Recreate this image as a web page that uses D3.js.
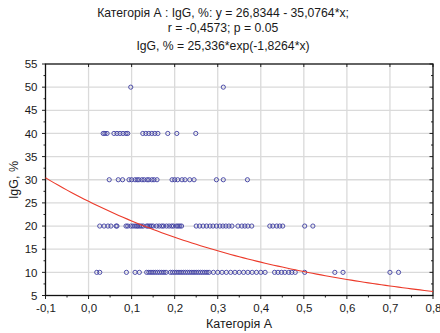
<!DOCTYPE html>
<html><head><meta charset="utf-8">
<script src="https://cdn.jsdelivr.net/npm/d3@7/dist/d3.min.js"></script>
<style>body{margin:0;background:#fff;} svg{display:block;font-family:"Liberation Sans",Arial,sans-serif;}</style>
</head><body><svg id="c" width="440" height="333"></svg>
<script>
const titleLines = ["Категорія А : IgG, %: y = 26,8344 - 35,0764*x;", "r = -0,4573; p = 0.05", "IgG, % = 25,336*exp(-1,8264*x)"];
const xLabel = "Категорія А";
const yLabel = "IgG, %";
const xTicks = [-0.1,0,0.1,0.2,0.3,0.4,0.5,0.6,0.7,0.8];
const yTicks = [5,10,15,20,25,30,35,40,45,50,55];
const fitA = 25.336, fitB = -1.8264;

const x50 = [0.098, 0.313];
const x40 = [0.034,0.038,0.043,0.059,0.066,0.073,0.080,0.087,0.091,0.126,0.133,0.140,0.147,0.154,0.161,0.184,0.205,0.249];
const x30 = [0.048,0.069,0.079,0.094,0.100,0.108,0.113,0.117,0.124,0.129,0.136,0.140,0.147,0.152,0.159,0.194,0.200,0.207,0.217,0.224,0.235,0.245,0.297,0.313,0.369];
const x20 = [0.026,0.036,0.045,0.052,0.064,0.066,0.087,0.091,0.098,0.103,0.108,0.112,0.115,0.119,0.123,0.127,0.135,0.138,0.142,0.146,0.150,0.158,0.164,0.170,0.174,0.181,0.187,0.193,0.197,0.204,0.208,0.212,0.216,0.250,0.258,0.266,0.274,0.282,0.289,0.297,0.305,0.312,0.319,0.326,0.333,0.347,0.356,0.363,0.370,0.379,0.421,0.428,0.437,0.444,0.451,0.502,0.521];
const x10 = [0.019,0.026,0.088,0.108,0.118,0.135,0.140,0.145,0.150,0.155,0.160,0.165,0.170,0.175,0.180,0.190,0.195,0.200,0.205,0.210,0.215,0.220,0.225,0.230,0.235,0.240,0.245,0.250,0.255,0.260,0.265,0.270,0.275,0.280,0.290,0.300,0.310,0.320,0.330,0.340,0.350,0.360,0.370,0.380,0.390,0.400,0.410,0.432,0.440,0.448,0.456,0.465,0.472,0.480,0.502,0.572,0.591,0.700,0.720];

const svg = d3.select("#c");
const L=45.5, R=433, T=64, B=295.5;
const xs = d3.scaleLinear().domain([-0.1,0.8]).range([L,R]);
const ys = d3.scaleLinear().domain([5,55]).range([B,T]);
const fmt = d => d3.format(".1f")(d).replace(".", ",").replace("−","-");

// grid
const g = svg.append("g");
g.selectAll(".vg").data(xTicks.slice(1,-1)).enter().append("line")
 .attr("x1",d=>xs(d)).attr("x2",d=>xs(d)).attr("y1",T).attr("y2",B)
 .attr("stroke","#dadada").attr("stroke-width",1.3);
g.selectAll(".hg").data(yTicks.slice(1,-1)).enter().append("line")
 .attr("y1",d=>ys(d)).attr("y2",d=>ys(d)).attr("x1",L).attr("x2",R)
 .attr("stroke","#dadada").attr("stroke-width",1.3);

// axes
const xAx = d3.axisBottom(xs).tickValues(xTicks).tickFormat(fmt).tickSize(0).tickPadding(6);
const yAx = d3.axisLeft(ys).tickValues(yTicks).tickSize(0).tickPadding(8);
const gx = svg.append("g").attr("transform",`translate(0,${B})`).call(xAx);
const gy = svg.append("g").attr("transform",`translate(${L},0)`).call(yAx);
[gx,gy].forEach(a=>{a.select(".domain").remove(); a.selectAll("text").attr("font-size",11.5).attr("fill","#1a1a1a").attr("font-family","Liberation Sans, Arial, sans-serif");});
gx.selectAll("text").attr("dy","0.95em");

// minor ticks
const minorX = d3.range(-0.1,0.8001,0.05);
const minorY = d3.range(5,55.001,2.5);
svg.append("g").selectAll("line").data(minorX).enter().append("line")
 .attr("x1",d=>xs(d)).attr("x2",d=>xs(d)).attr("y1",B).attr("y2",(d,i)=>B+(i%2?2:3.5)).attr("stroke","#222");
svg.append("g").selectAll("line").data(minorX).enter().append("line")
 .attr("x1",d=>xs(d)).attr("x2",d=>xs(d)).attr("y1",T).attr("y2",(d,i)=>T+(i%2?0:3)).attr("stroke","#222");
svg.append("g").selectAll("line").data(minorY).enter().append("line")
 .attr("y1",d=>ys(d)).attr("y2",d=>ys(d)).attr("x1",L).attr("x2",(d,i)=>L-(i%2?2:3.5)).attr("stroke","#222");
svg.append("g").selectAll("line").data(minorY).enter().append("line")
 .attr("y1",d=>ys(d)).attr("y2",d=>ys(d)).attr("x1",R).attr("x2",(d,i)=>R-(i%2?2:3.5)).attr("stroke","#222");

// frame
svg.append("rect").attr("x",L).attr("y",T).attr("width",R-L).attr("height",B-T)
 .attr("fill","none").attr("stroke","#111").attr("stroke-width",1.3);

// points
const pts = [].concat(
  x50.map(v=>[v,50]), x40.map(v=>[v,40]), x30.map(v=>[v,30]), x20.map(v=>[v,20]), x10.map(v=>[v,10]));
svg.append("g").selectAll("circle").data(pts).enter().append("circle")
 .attr("cx",d=>xs(d[0])).attr("cy",d=>ys(d[1])).attr("r",2.1)
 .attr("fill","none").attr("stroke","#3c3ca0").attr("stroke-width",0.9);

// fit curve
const cx = d3.range(-0.1,0.8001,0.01);
svg.append("path").datum(cx.map(v=>[v,fitA*Math.exp(fitB*v)]))
 .attr("d",d3.line().x(d=>xs(d[0])).y(d=>ys(d[1])))
 .attr("fill","none").attr("stroke","#ec3a2a").attr("stroke-width",1.1);

// titles
svg.append("g").selectAll("text").data(titleLines).enter().append("text")
 .attr("x",223).attr("y",(d,i)=>[17,32,50][i]).attr("text-anchor","middle")
 .attr("font-size",12.2).attr("fill","#1a1a1a").text(d=>d);
svg.append("text").attr("x",239).attr("y",328).attr("text-anchor","middle")
 .attr("font-size",12.5).attr("fill","#1a1a1a").text(xLabel);
svg.append("text").attr("transform","translate(18,180) rotate(-90)").attr("text-anchor","middle")
 .attr("font-size",12.5).attr("fill","#1a1a1a").text(yLabel);
</script></body></html>
